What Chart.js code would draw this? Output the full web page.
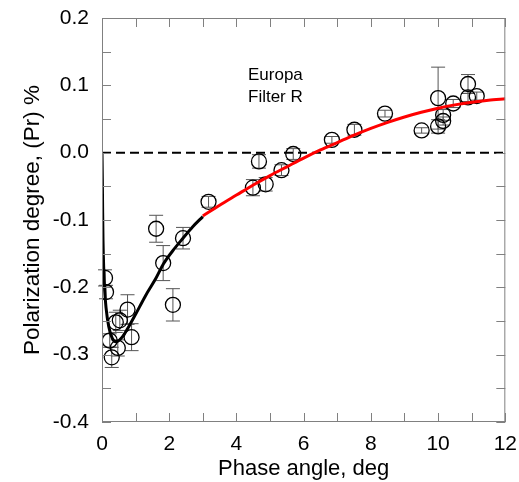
<!DOCTYPE html>
<html>
<head>
<meta charset="utf-8">
<script src="https://cdn.jsdelivr.net/npm/chart.js@4.4.0/dist/chart.umd.min.js"></script>
<style>
  html, body { margin: 0; padding: 0; background: #fff; }
  #wrap { width: 519px; height: 482px; }
</style>
</head>
<body>
<div id="wrap"><canvas id="polChart" width="519" height="482"></canvas></div>
<script>
// Observed points: phase angle (deg), polarization (%), error
const phaseObs = [0.09, 0.12, 0.23, 0.29, 0.47, 0.41, 0.53, 0.76, 0.88, 1.61, 1.82, 2.11, 2.41, 3.17,
  4.49, 4.67, 4.87, 5.34, 5.69, 6.84, 7.51, 8.42, 9.51, 10.0, 10.0, 10.15, 10.15, 10.45, 10.89, 10.89, 11.15];
const polObs = [-0.186, -0.207, -0.279, -0.304, -0.29, -0.252, -0.249, -0.233, -0.274, -0.113, -0.164, -0.226, -0.127, -0.073,
  -0.052, -0.013, -0.047, -0.026, -0.002, 0.019, 0.034, 0.058, 0.033, 0.039, 0.081, 0.056, 0.047, 0.073, 0.102, 0.082, 0.084];
const polErr = [0.012, 0.01, 0.01, 0.015, 0.012, 0.015, 0.015, 0.022, 0.02, 0.02, 0.026, 0.024, 0.016, 0.008,
  0.012, 0.01, 0.01, 0.008, 0.008, 0.005, 0.008, 0.005, 0.004, 0.01, 0.046, 0.008, 0.006, 0.006, 0.014, 0.006, 0.006];

// Model fits
const fitBlackX = [0, 0.01, 0.02, 0.03, 0.05, 0.08, 0.12, 0.2, 0.3, 0.42, 0.6, 0.8, 1.0, 1.3, 1.6, 1.83, 2.1, 2.41, 2.7, 3.0];
const fitBlackY = [0, -0.04, -0.09, -0.13, -0.17, -0.205, -0.23, -0.258, -0.275, -0.281, -0.274, -0.258, -0.24, -0.212, -0.187, -0.165, -0.146, -0.127, -0.11, -0.095];
const fitRedX = [3.0, 3.5, 4.0, 4.5, 5.0, 5.5, 6.0, 6.5, 7.0, 7.5, 8.0, 8.5, 9.0, 9.5, 10.0, 10.5, 11.0, 11.5, 12.0];
const fitRedY = [-0.094, -0.078, -0.063, -0.048, -0.034, -0.021, -0.008, 0.004, 0.015, 0.026, 0.036, 0.045, 0.053, 0.06, 0.066, 0.071, 0.075, 0.078, 0.08];

const xMin = 0, xMax = 12, xStep = 2, xMinor = 1;
const yMin = -0.4, yMax = 0.2, yStep = 0.1, yMinor = 0.05;

const FONT = "'Liberation Sans', Arial, sans-serif";

function toXY(xs, ys) {
  return xs.map((x, i) => ({ x: x, y: ys[i] }));
}

// Error bars, frame and inward ticks
const decorPlugin = {
  id: "decor",
  beforeDatasetsDraw(chart) {
    const ctx = chart.ctx;
    const xs = chart.scales.x, ys = chart.scales.y;
    ctx.save();
    ctx.strokeStyle = "#555";
    ctx.lineWidth = 1;
    phaseObs.forEach((p, i) => {
      const px = xs.getPixelForValue(p);
      const top = ys.getPixelForValue(polObs[i] + polErr[i]);
      const bot = ys.getPixelForValue(polObs[i] - polErr[i]);
      ctx.beginPath();
      ctx.moveTo(px, top); ctx.lineTo(px, bot);
      ctx.moveTo(px - 7, top); ctx.lineTo(px + 7, top);
      ctx.moveTo(px - 7, bot); ctx.lineTo(px + 7, bot);
      ctx.stroke();
    });
    ctx.restore();
  },
  afterDraw(chart) {
    const ctx = chart.ctx;
    const a = chart.chartArea;
    const xs = chart.scales.x, ys = chart.scales.y;
    ctx.save();
    ctx.strokeStyle = "#808080";
    ctx.lineWidth = 1;
    ctx.strokeRect(a.left + 0.5, a.top + 0.5, a.right - a.left - 1, a.bottom - a.top - 1);
    ctx.beginPath();
    for (let v = xMin; v <= xMax + 1e-9; v += xMinor) {
      const px = Math.round(xs.getPixelForValue(v)) + 0.5;
      const len = 9;
      ctx.moveTo(px, a.bottom); ctx.lineTo(px, a.bottom - len);
      ctx.moveTo(px, a.top); ctx.lineTo(px, a.top + len);
    }
    for (let v = yMin; v <= yMax + 1e-9; v += yMinor) {
      const py = Math.round(ys.getPixelForValue(v)) + 0.5;
      const len = 9;
      ctx.moveTo(a.left, py); ctx.lineTo(a.left + len, py);
      ctx.moveTo(a.right, py); ctx.lineTo(a.right - len, py);
    }
    ctx.stroke();

    // label
    ctx.fillStyle = "#000";
    ctx.font = "17px " + FONT;
    ctx.textAlign = "left";
    ctx.textBaseline = "middle";
    ctx.fillText("Europa", 248, 75);
    ctx.fillText("Filter R", 248, 97);
    ctx.restore();
  }
};

new Chart(document.getElementById("polChart"), {
  type: "scatter",
  data: {
    datasets: [
      {
        label: "zero",
        type: "line",
        data: [{ x: xMin, y: 0 }, { x: xMax, y: 0 }],
        borderColor: "#000",
        borderWidth: 2,
        borderDash: [9, 5],
        pointRadius: 0,
        order: 4
      },
      {
        label: "observations",
        data: toXY(phaseObs, polObs),
        pointStyle: "circle",
        pointRadius: 7.5,
        backgroundColor: "rgba(0,0,0,0)",
        borderColor: "#000",
        borderWidth: 1.3,
        order: 3
      },
      {
        label: "fit small angles",
        type: "line",
        data: toXY(fitBlackX, fitBlackY),
        borderColor: "#000",
        borderWidth: 3,
        pointRadius: 0,
        cubicInterpolationMode: "monotone",
        order: 1
      },
      {
        label: "fit",
        type: "line",
        data: toXY(fitRedX, fitRedY),
        borderColor: "#ff0000",
        borderWidth: 3,
        pointRadius: 0,
        tension: 0.3,
        order: 2
      }
    ]
  },
  options: {
    responsive: false,
    animation: false,
    events: [],
    layout: { padding: { left: 0, right: 13, top: 18, bottom: 0 } },
    plugins: {
      legend: { display: false },
      tooltip: { enabled: false }
    },
    scales: {
      x: {
        type: "linear",
        min: xMin, max: xMax,
        grid: { display: false },
        border: { display: false },
        ticks: {
          stepSize: xStep,
          color: "#000",
          font: { family: FONT, size: 21 },
          padding: 2,
          maxRotation: 0
        },
        title: {
          display: true,
          text: "Phase angle, deg",
          color: "#000",
          font: { family: FONT, size: 22 },
          padding: { top: 0, bottom: 0 }
        },
        afterFit(scale) { scale.height = 60; }
      },
      y: {
        type: "linear",
        min: yMin, max: yMax,
        grid: { display: false },
        border: { display: false },
        ticks: {
          stepSize: yStep,
          color: "#000",
          font: { family: FONT, size: 21 },
          padding: 5,
          callback: (v) => Number(v).toFixed(1)
        },
        title: {
          display: true,
          text: "Polarization degree, (Pr) %",
          color: "#000",
          font: { family: FONT, size: 22.5 },
          padding: { top: 19, bottom: 6 }
        },
        afterFit(scale) { scale.width = 102; }
      }
    }
  },
  plugins: [decorPlugin]
});
</script>
</body>
</html>
